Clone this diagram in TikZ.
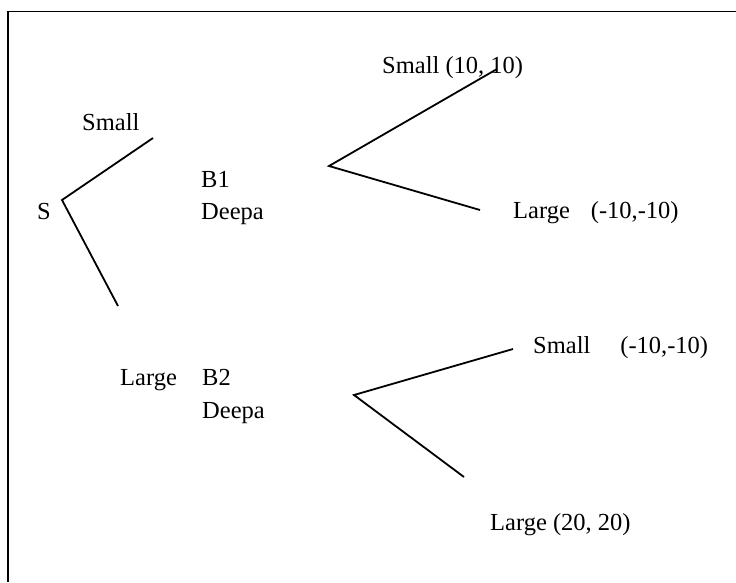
\documentclass[tikz,border=0pt]{standalone}
\usepackage{fontspec}
\setmainfont{Liberation Serif}
\usepackage{tkz-euclide}
\tikzset{>=stealth}
\tikzset{lbl/.style={inner sep=0pt, anchor=base west, font=\fontsize{24.5}{28}\selectfont}}

\begin{document}
\begin{tikzpicture}[x=1pt, y=-1pt]
    \useasboundingbox (0,0) rectangle (736,582);
    \coordinate (T) at (8,11.5);
    \coordinate (R) at (736,11.5);
    \coordinate (L) at (8,582);
    \coordinate (S) at (62,200);
    \coordinate (SA) at (153,138);
    \coordinate (SB) at (118,306);
    \coordinate (P) at (329,166);
    \coordinate (PA) at (497,69);
    \coordinate (PB) at (480,210);
    \coordinate (Q) at (354,395);
    \coordinate (QA) at (513,349);
    \coordinate (QB) at (464,477);
    \draw[line width=1.8pt] (R) -- (T) -- (L);
    \draw[line width=1.8pt] (SA) -- (S) -- (SB);
    \draw[line width=1.8pt] (PA) -- (P) -- (PB);
    \draw[line width=1.8pt] (QA) -- (Q) -- (QB);
    \node[lbl] (s) at (37,219) {S};
    \node[lbl] (sa) at (82,130) {Small};
    \node[lbl] (sb) at (120,385) {Large};
    \node[lbl] (b1) at (201,187) {B1};
    \node[lbl] (d1) at (201,219) {Deepa};
    \node[lbl] (b2) at (202,385) {B2};
    \node[lbl] (d2) at (202,418) {Deepa};
    \node[lbl] (pa) at (382,73) {Small (10, 10)};
    \node[lbl] (pb) at (513,218) {Large\hspace{21pt}(-10,-10)};
    \node[lbl] (qa) at (533,353) {Small\hspace{30pt}(-10,-10)};
    \node[lbl] (qb) at (490,530) {Large (20, 20)};
\end{tikzpicture}
\end{document}
